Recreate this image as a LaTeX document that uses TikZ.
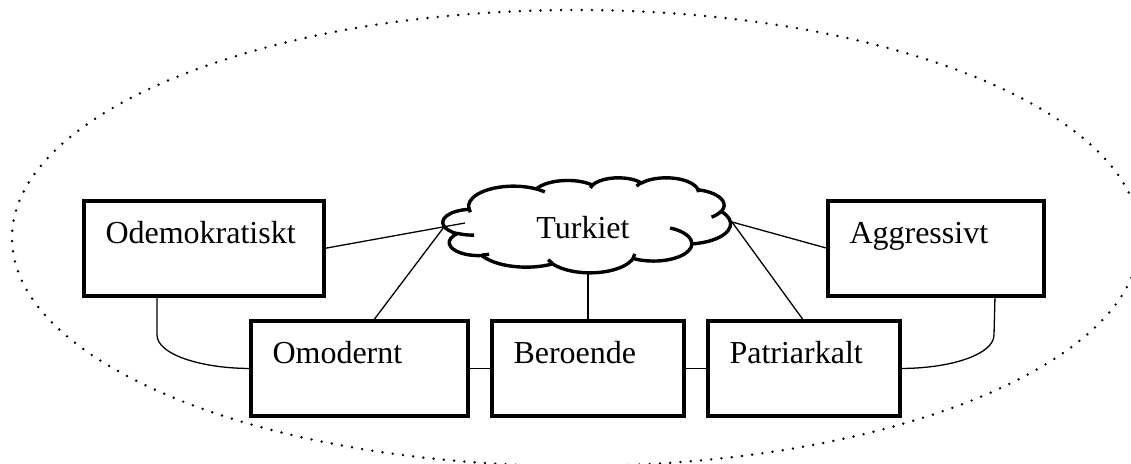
\documentclass[tikz,border=0pt]{standalone}
\usepackage{fontspec}
\setmainfont{Liberation Serif}

% Build an arc style from radii, a visual start angle and a sweep (degrees)
\newcommand\puffstyle[5]{%
  \pgfmathsetmacro\pfS{atan2((#2)*sin(#4),(#3)*cos(#4))}%
  \pgfmathsetmacro\pfE{atan2((#2)*sin((#4)+(#5)),(#3)*cos((#4)+(#5)))}%
  \pgfmathsetmacro\pfD{\pfE-\pfS}%
  \pgfmathsetmacro\pfD{\pfD<0?\pfD+360:\pfD}%
  \edef\pfnext{\noexpand\tikzset{#1/.style={start angle=\pfS,delta angle=\pfD,x radius=#2,y radius=#3}}}%
  \pfnext
}
% outline of the cloud
\puffstyle{puffA}{67.53}{91.90}{-190.48748}{123.78053}
\puffstyle{puffB}{53.33}{72.67}{-144.10238}{89.94523}
\puffstyle{puffC}{43.65}{59.45}{-145.80792}{99.72302}
\puffstyle{puffD}{48.57}{65.95}{-130.98607}{117.24173}
\puffstyle{puffE}{53.33}{72.73}{-78.70888}{109.02692}
\puffstyle{puffF}{67.75}{92.20}{-46.26725}{130.26900}
\puffstyle{puffG}{57.85}{78.67}{0.62502}{114.03333}
\puffstyle{puffH}{67.52}{92.15}{22.45160}{115.17255}
\puffstyle{puffI}{77.20}{105.43}{66.24263}{75.71102}
\puffstyle{puffJ}{43.60}{59.18}{-274.94208}{146.73557}
\puffstyle{puffK}{43.45}{59.45}{-246.82850}{152.51885}
% inner creases of the cloud
\puffstyle{innA}{43.45}{59.45}{86.74200}{26.42950}
\puffstyle{innB}{43.60}{59.18}{73.61047}{11.44747}
\puffstyle{innC}{67.52}{92.15}{137.62415}{14.08110}
\puffstyle{innD}{67.52}{92.15}{6.45327}{15.99835}
\puffstyle{innE}{57.85}{78.67}{-70.29235}{70.91737}
\puffstyle{innF}{53.33}{72.73}{30.31803}{27.75150}
\puffstyle{innG}{48.57}{65.95}{-13.74433}{14.85890}
\puffstyle{innH}{48.57}{65.95}{-149.18145}{18.19537}
\puffstyle{innI}{43.65}{59.45}{-163.49427}{17.68635}
\puffstyle{innJ}{67.53}{91.90}{-66.70695}{12.31935}
\puffstyle{innK}{67.53}{91.90}{157.65435}{11.85817}

\tikzset{
  box/.style={draw, rectangle, line width=2.1pt, fill=white, anchor=north west,
    outer sep=0pt, inner xsep=10.75pt, inner ysep=0pt,
    text height=21.25pt, text depth=26.25pt, align=left,
    font=\fontsize{16pt}{19pt}\selectfont},
  link/.style={line width=0.65pt},
  cloudline/.style={line width=1.7pt, line join=round},
  dotline/.style={line width=1.35pt, line cap=round, dash pattern=on 0pt off 5.15pt},
}

\begin{document}
\begin{tikzpicture}[x=0.5pt, y=-0.5pt]
\path[use as bounding box] (0,0) rectangle (1131,464);

% dotted boundary
\begin{scope}
  \clip (0,0) rectangle (1131,464);
  \draw[dotline] (576,238) ellipse[x radius=564, y radius=228];
\end{scope}

% cloud
\begin{scope}[shift={(443,177.5)}, x=0.33275pt, y=-0.10995pt]
  \draw[cloudline, fill=white] (39.00,143.70)
    arc[puffA] arc[puffB] arc[puffC] arc[puffD] arc[puffE] arc[puffF]
    arc[puffG] arc[puffH] arc[puffI] arc[puffJ] arc[puffK] -- cycle;
  \draw[cloudline]
    (46.93,261.77) arc[innA]
    (69.28,348.99) arc[innB]
    (164.78,390.90) arc[innC]
    (288.27,347.51) arc[innD]
    (341.29,229.54) arc[innE]
    (417.98,153.54) arc[innF]
    (383.24,54.26) arc[innG]
    (290.78,39.52) arc[innH]
    (221.41,47.20) arc[innI]
    (140.00,51.92) arc[innJ]
    (41.27,157.89) arc[innK];
\end{scope}
\node[font=\fontsize{16pt}{19pt}\selectfont, anchor=base, inner sep=0pt] (tu) at (583,239) {Turkiet};
\coordinate (c-od) at (465,223);
\coordinate (c-om) at (444,227);
\coordinate (c-be) at (588,273);
\coordinate (c-pa) at (732,222);
\coordinate (c-ag) at (732,222);

% boxes
\node[box, text width=98.5pt] (od) at (84,201) {Odemokratiskt};
\node[box, text width=86.5pt] (ag) at (828,201) {Aggressivt};
\node[box, text width=87pt] (om) at (251,321) {Omodernt};
\node[box, text width=74.5pt] (be) at (492,321) {Beroende};
\node[box, text width=74.5pt] (pa) at (708,321) {Patriarkalt};

% links
\draw[link] (od.east) -- (c-od);
\draw[link] ([xshift=6.75pt]om.north) -- (c-om);
\draw[link] (be.north) -- (c-be);
\draw[link] (pa.north) -- (c-pa);
\draw[link] (ag.west) -- (c-ag);
\draw[link] (om.east) -- (be.west);
\draw[link] (be.east) -- (pa.west);
\draw[link] ([xshift=-23.5pt]od.south) -- ++(0,39)
  .. controls +(0,19) and +(-51,0) .. (om.west);
\draw[link] ([xshift=29.5pt]ag.south) -- ++(-1,39)
  .. controls +(0,19) and +(52,0) .. (pa.east);
\end{tikzpicture}
\end{document}
